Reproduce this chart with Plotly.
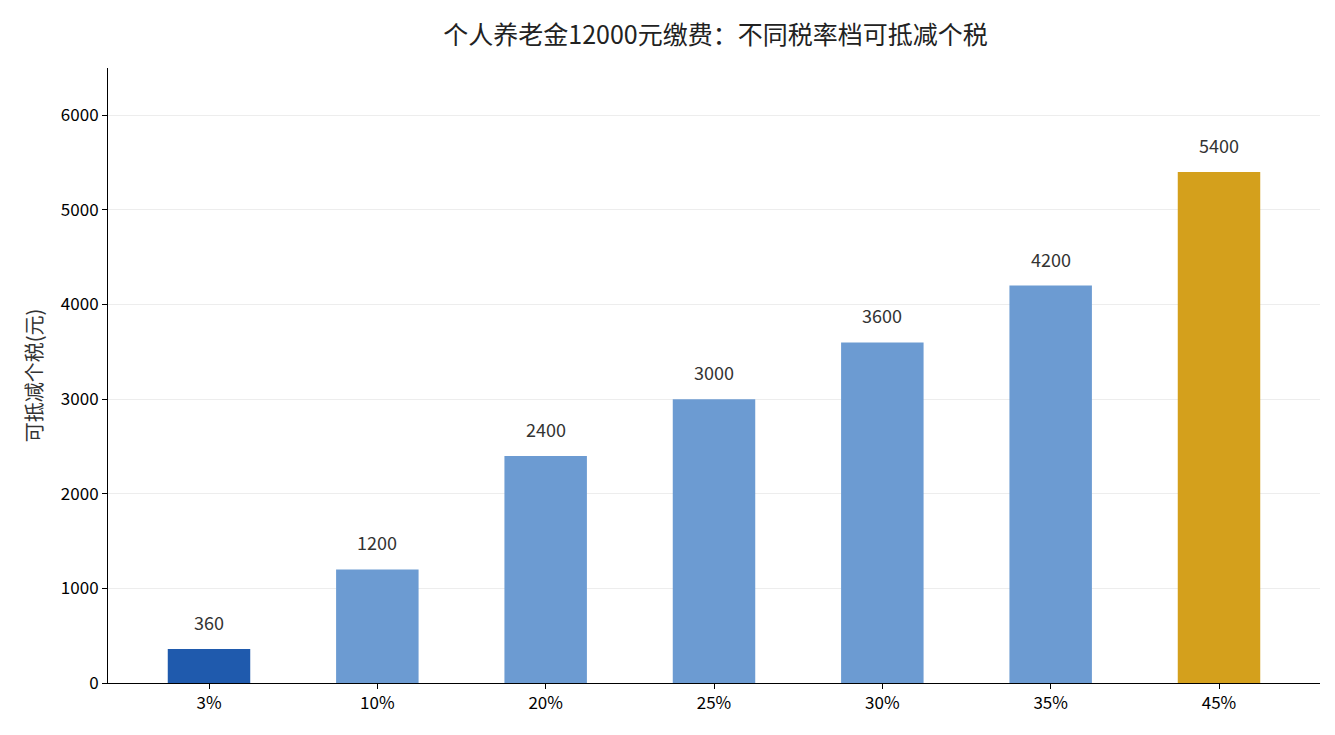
import plotly.graph_objects as go

categories = ["3%", "10%", "20%", "25%", "30%", "35%", "45%"]
values = [360, 1200, 2400, 3000, 3600, 4200, 5400]
colors = ["#1f5aad", "#6c9bd2", "#6c9bd2", "#6c9bd2", "#6c9bd2", "#6c9bd2", "#d4a01c"]
labels = [str(v) for v in values]

F = "Noto Sans CJK SC"
fig = go.Figure(go.Bar(x=categories, y=values, marker_color=colors, width=0.49,
                       marker_line_width=0, cliponaxis=False))
for c, v, t in zip(categories, values, labels):
    fig.add_annotation(x=c, y=v, text=t, showarrow=False, yanchor="bottom", yshift=12,
                       font=dict(size=18, color="#333333", family=F))
fig.update_layout(
    width=1335, height=735, plot_bgcolor="white", paper_bgcolor="white",
    margin=dict(l=100, r=23, t=60, b=60),
    font=dict(family=F, size=17, color="black"),
    title=dict(text="个人养老金12000元缴费：不同税率档可抵减个税", x=0.53, xanchor="center",
               y=0.975, font=dict(size=25, color="#222222")),
    showlegend=False, bargap=0.5,
)
fig.update_xaxes(showline=True, linecolor="black", ticks="outside", ticklen=5,
                 tickcolor="black", range=[-0.6, 6.6])
fig.update_yaxes(range=[0, 6500], tickvals=[0, 1000, 2000, 3000, 4000, 5000, 6000],
                 showline=True, linecolor="black", ticks="outside", ticklen=5,
                 tickcolor="black", showgrid=True, gridcolor="rgba(0,0,0,0.07)",
                 zeroline=False, layer="above traces",
                 title=dict(text="可抵减个税(元)", font=dict(size=20, color="#333333"), standoff=12))
fig.write_html("out.html")
